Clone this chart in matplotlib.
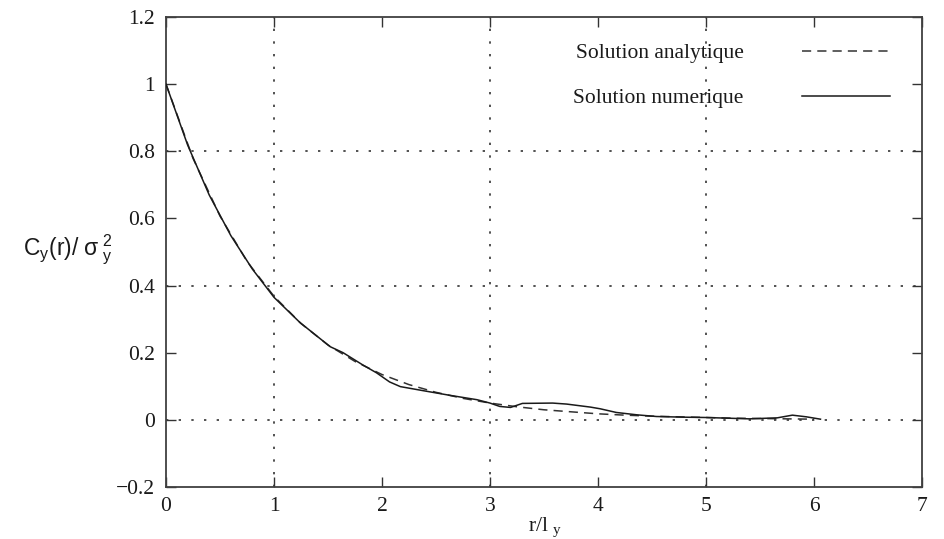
import numpy as np
import matplotlib
matplotlib.use("Agg")
import matplotlib.pyplot as plt

plt.rcParams['font.family'] = ['Liberation Serif', 'DejaVu Serif']
plt.rcParams['mathtext.fontset'] = 'custom'
plt.rcParams['mathtext.rm'] = 'Liberation Serif'
plt.rcParams['mathtext.sf'] = 'Liberation Sans'
plt.rcParams['mathtext.it'] = 'Liberation Serif:italic'

# -- analytic correlation (dashed)
r_ana = [0.0, 0.25, 0.5, 0.75, 1.0, 1.25, 1.5, 1.75, 2.0, 2.25, 2.5, 2.75,
         3.0, 3.25, 3.5, 3.75, 4.0, 4.25, 4.5, 4.75, 5.0, 5.25, 5.5, 5.75, 6.0]
c_ana = [1.0, 0.779, 0.607, 0.472, 0.368, 0.287, 0.223, 0.174, 0.135, 0.105,
         0.082, 0.064, 0.050, 0.039, 0.030, 0.024, 0.018, 0.014, 0.011, 0.009,
         0.007, 0.005, 0.004, 0.003, 0.002]

# -- numerical correlation (solid)
r_num = [0.0, 0.2, 0.4, 0.6, 0.8, 1.0, 1.24, 1.52, 1.64, 1.82, 1.95, 2.07,
         2.17, 2.38, 2.63, 2.88, 3.0, 3.09, 3.19, 3.3, 3.58, 3.71, 3.93, 4.02,
         4.17, 4.36, 4.54, 4.79, 5.0, 5.4, 5.66, 5.8, 5.93, 6.06]
c_num = [1.0, 0.819, 0.670, 0.549, 0.449, 0.365, 0.290, 0.218, 0.200, 0.164,
         0.140, 0.113, 0.099, 0.087, 0.073, 0.060, 0.050, 0.040, 0.037, 0.049,
         0.050, 0.047, 0.038, 0.033, 0.022, 0.015, 0.010, 0.008, 0.007, 0.003,
         0.006, 0.014, 0.009, 0.002]

fig = plt.figure(figsize=(9.44, 5.39), dpi=100)
ax = fig.add_axes([166/944, 1 - 487/539, 756/944, 470/539])

# -- dotted grid on every other tick
dot = (0, (1.4, 6.2))
for gx in [1, 3, 5]:
  ax.axvline(gx, color='0.2', lw=1.2, ls=dot, zorder=1)
for gy in [0.0, 0.4, 0.8]:
  ax.axhline(gy, color='0.2', lw=1.2, ls=dot, zorder=1)

ax.plot(r_ana, c_ana, color='0.2', lw=1.1, ls=(0, (6, 4)), label='Solution analytique', zorder=3)
ax.plot(r_num, c_num, color='0.1', lw=1.1, ls='-', label='Solution numerique', zorder=4)

ax.set_xlim(0, 7)
ax.set_ylim(-0.2, 1.2)
ax.set_xticks(range(8))
ax.set_yticks([-0.2, 0, 0.2, 0.4, 0.6, 0.8, 1.0, 1.2])
ax.set_yticklabels(['\u22120.2', '0', '0.2', '0.4', '0.6', '0.8', '1', '1.2'])
ax.tick_params(direction='in', length=7, width=1.0, top=True, right=True,
               labelsize=15.5, color='0.2', labelcolor='0.1')
ax.tick_params(axis='y', pad=8)
ax.tick_params(axis='x', pad=7)
for spine in ax.spines.values():
  spine.set_linewidth(1.3)
  spine.set_edgecolor('0.25')

leg = ax.legend(loc='upper right', bbox_to_anchor=(0.958, 0.944), frameon=False,
                markerfirst=False, fontsize=15.5, handlelength=4.1, handletextpad=2.7,
                labelspacing=1.15, borderpad=0, borderaxespad=0)
for t in leg.get_texts():
  t.set_color('0.1')

fig.text(23/944, 1 - 250/539, r'$\mathsf{C_y(r)/\ \sigma\ _y^2}$', ha='left', va='center',
         fontsize=16.5, color='0.1')
fig.text(528/944, 1 - 527/539, r'r/l $_\mathrm{y}$', ha='left', va='center',
         fontsize=15.5, color='0.1')

fig.savefig('out.png', dpi=100)
